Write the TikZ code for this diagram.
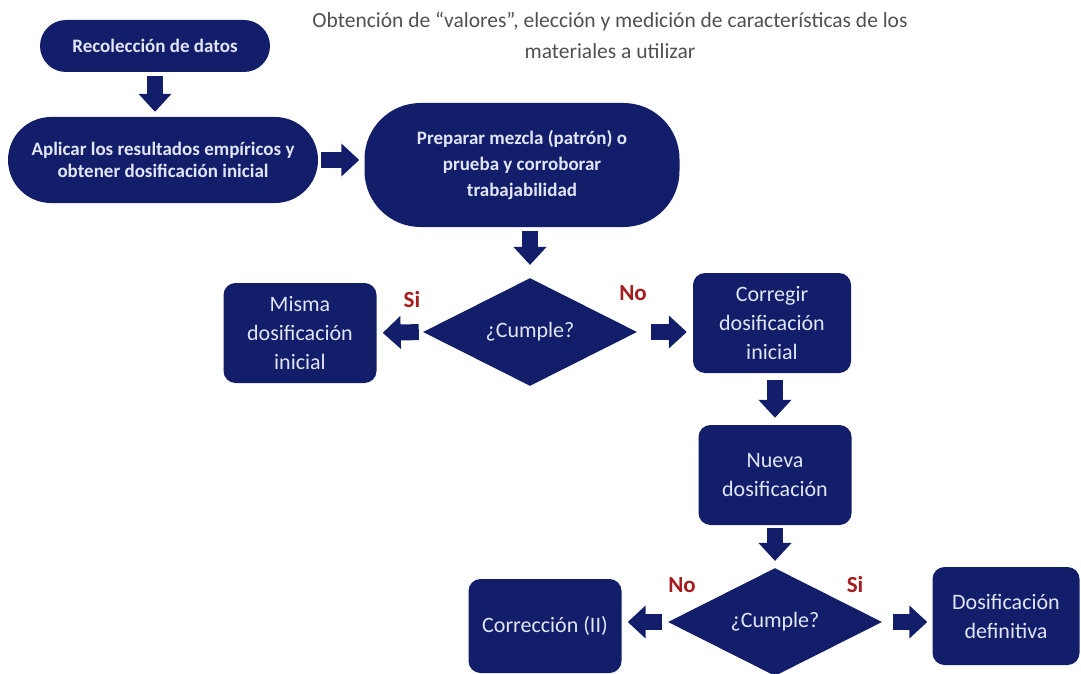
\documentclass[tikz,border=0pt]{standalone}
\usepackage{fontspec}
\setmainfont{Carlito}
\usetikzlibrary{arrows.meta,shapes.geometric}
\definecolor{navy}{RGB}{18,30,106}
\definecolor{labelred}{RGB}{165,28,28}
\definecolor{boxtext}{RGB}{226,229,245}
\definecolor{titlegray}{RGB}{80,80,80}

\begin{document}
\begin{tikzpicture}[x=1pt,y=-1pt,
    pill/.style={fill=navy,text=boxtext,font=\fontsize{19}{22}\selectfont\bfseries,align=center,inner sep=0pt},
    box/.style={fill=navy,text=boxtext,font=\fontsize{22}{29}\selectfont,align=center,rounded corners=12pt,minimum width=153pt,minimum height=100pt,inner sep=0pt},
    decision/.style={diamond,fill=navy,text=boxtext,font=\fontsize{22}{26}\selectfont,minimum width=214pt,minimum height=103pt,inner sep=0pt},
    answer/.style={text=labelred,font=\fontsize{23}{26}\selectfont\bfseries},
    flow/.style={navy,line width=16pt,-{Triangle[width=32pt,length=18pt]},shorten <=4pt,shorten >=5pt}]
                      % Frame
                      \useasboundingbox (0,0) rectangle (1081,674);

                      % Title
                      \node[align=center,font=\fontsize{21.5}{31}\selectfont,text=titlegray] (title) at (610,35)
                          {Obtención de “valores”, elección y medición de características de los\\materiales a utilizar};

                      % Start
                      \node[pill,rounded corners=26pt,minimum width=230pt,minimum height=52pt] (recol) at (155,46) {Recolección de datos};
                      \node[pill,rounded corners=43pt,minimum width=310pt,minimum height=86pt] (aplicar) at (163,160)
                          {Aplicar los resultados empíricos y\\obtener dosificación inicial};
                      \node[pill,rounded corners=56pt,minimum width=315pt,minimum height=124pt,font=\fontsize{19}{26}\selectfont\bfseries] (preparar) at (522,165)
                          {Preparar mezcla (patrón) o\\prueba y corroborar\\trabajabilidad};

                      % First check
                      \node[decision] (cumple1) at (530,332) {¿Cumple?};
                      \node[box] (misma) at (300,333) {Misma\\dosificación\\inicial};
                      \node[box,minimum width=158pt] (corregir) at (772,323) {Corregir\\dosificación\\inicial};
                      \node[answer] (si1) at (412,300) {Si};
                      \node[answer] (no1) at (633,293) {No};

                      % Second check
                      \node[box] (nueva) at (775,475) {Nueva\\dosificación};
                      \node[decision] (cumple2) at (775,622) {¿Cumple?};
                      \node[box,minimum height=94pt] (correc) at (545,626) {Corrección (II)};
                      \node[box,minimum width=147pt,minimum height=98pt] (defin) at (1006,616) {Dosificación\\definitiva};
                      \node[answer] (no2) at (682,585) {No};
                      \node[answer] (si2) at (855,585) {Si};

                      % Arrows
                      \draw[flow] (recol.south) -- (recol.south |- aplicar.north);
                      \draw[flow,shorten <=3pt] (aplicar.east) -- (aplicar.east -| preparar.west);
                      \draw[flow,shorten >=13pt] (preparar.south -| cumple1.north) -- (cumple1.north);
                      \draw[flow,shorten >=6pt] (cumple1.west) -- (misma.east);
                      \draw[flow,shorten <=14pt,shorten >=6pt] (cumple1.east) -- (cumple1.east -| corregir.west);
                      \draw[flow,shorten <=7pt,shorten >=7pt] (corregir.south -| nueva.south) -- (nueva.north);
                      \draw[flow,shorten <=3pt,shorten >=7pt] (nueva.south) -- (cumple2.north);
                      \draw[flow,shorten <=6pt,shorten >=6pt] (cumple2.west) -- (cumple2.west -| correc.east);
                      \draw[flow,shorten <=11pt,shorten >=5pt] (cumple2.east) -- (cumple2.east -| defin.west);
\end{tikzpicture}
\end{document}
